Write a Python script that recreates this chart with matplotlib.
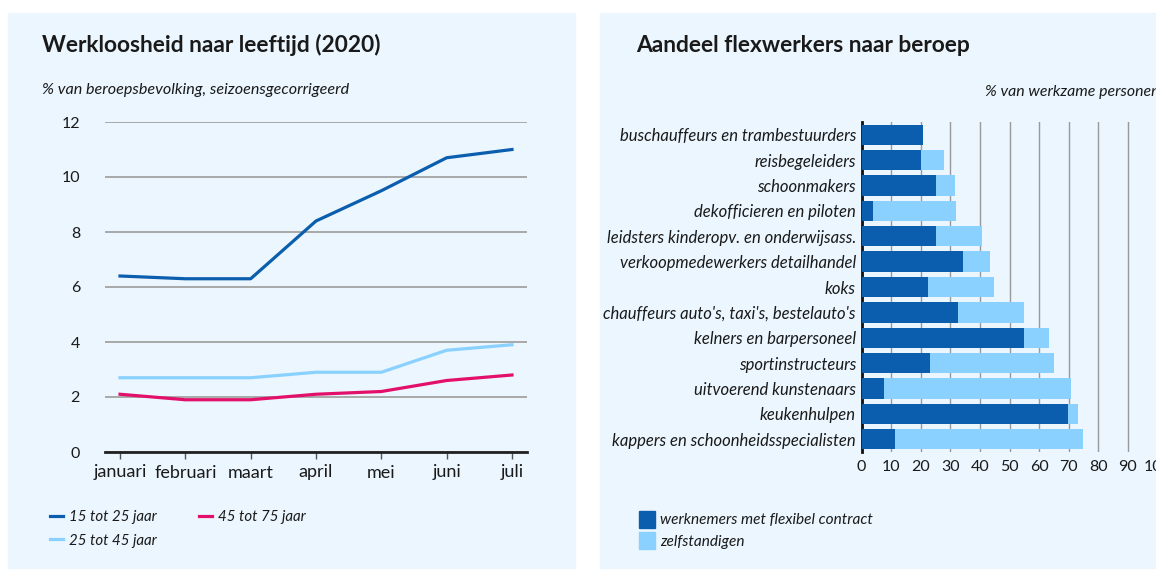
import numpy as np
import matplotlib.pyplot as plt
from matplotlib.patches import Rectangle, Patch

plt.rcParams['font.family'] = ['Lato', 'DejaVu Sans']

# left chart data
months = ['januari', 'februari', 'maart', 'april', 'mei', 'juni', 'juli']
age_15_25 = [6.4, 6.3, 6.3, 8.4, 9.5, 10.7, 11.0]
age_25_45 = [2.7, 2.7, 2.7, 2.9, 2.9, 3.7, 3.9]
age_45_75 = [2.1, 1.9, 1.9, 2.1, 2.2, 2.6, 2.8]

# right chart data
beroepen = ['buschauffeurs en trambestuurders', 'reisbegeleiders', 'schoonmakers',
            'dekofficieren en piloten', 'leidsters kinderopv. en onderwijsass.',
            'verkoopmedewerkers detailhandel', 'koks', "chauffeurs auto's, taxi's, bestelauto's",
            'kelners en barpersoneel', 'sportinstructeurs', 'uitvoerend kunstenaars',
            'keukenhulpen', 'kappers en schoonheidsspecialisten']
flex = [20.7, 20.0, 25.1, 4.0, 25.1, 34.3, 22.3, 32.7, 55.0, 23.2, 7.7, 69.9, 11.3]
zzp = [0.0, 7.8, 6.5, 27.8, 15.6, 9.0, 22.5, 22.3, 8.2, 41.7, 63.2, 3.1, 63.5]

DARK = '#0b5dad'
LIGHT = '#8ad1ff'
PINK = '#e3106b'
BG = '#ebf6fe'
TXT = '#1a1a1a'

W, H = 1156, 571
fig = plt.figure(figsize=(W / 100, H / 100), dpi=100)
fig.patch.set_facecolor('white')


def fx(px):
    return px / W


def fy(py):
    return 1 - py / H


# panel backgrounds
fig.patches.append(Rectangle((fx(8), fy(568)), fx(575 - 8), (568 - 13) / H,
                             transform=fig.transFigure, color=BG, zorder=-10))
fig.patches.append(Rectangle((fx(600), fy(568)), fx(W - 600), (568 - 13) / H,
                             transform=fig.transFigure, color=BG, zorder=-10))

# ---- left: line chart ----
ax = fig.add_axes([fx(105), fy(452), fx(527 - 105), (452 - 122) / H])
ax.set_facecolor('none')
x = np.arange(len(months))
l1, = ax.plot(x, age_15_25, color=DARK, lw=2.3, solid_joinstyle='round')
l2, = ax.plot(x, age_25_45, color=LIGHT, lw=2.3, solid_joinstyle='round')
l3, = ax.plot(x, age_45_75, color=PINK, lw=2.3, solid_joinstyle='round')
ax.set_xlim(-0.23, 6.23)
ax.set_ylim(0, 12)
ax.set_yticks([0, 2, 4, 6, 8, 10, 12])
ax.set_xticks(x)
ax.set_xticklabels(months)
ax.grid(axis='y', color='#a8a8a8', lw=1.4)
ax.set_axisbelow(True)
for s in ['top', 'right', 'left']:
    ax.spines[s].set_visible(False)
ax.spines['bottom'].set_color('#222222')
ax.spines['bottom'].set_linewidth(2)
ax.tick_params(axis='y', length=0, pad=18, labelsize=11.5, labelcolor=TXT)
ax.tick_params(axis='x', length=5, width=1, color='#555555', pad=4, labelsize=13, labelcolor=TXT)

fig.text(fx(42), fy(45), 'Werkloosheid naar leeftijd (2020)', fontsize=16.4, fontweight='bold',
         color=TXT, va='center')
fig.text(fx(42), fy(90), '% van beroepsbevolking, seizoensgecorrigeerd', fontsize=11.6,
         style='italic', color=TXT, va='center')

fig.legend(handles=[l1, l2, l3], labels=['15 tot 25 jaar', '25 tot 45 jaar', '45 tot 75 jaar'],
           ncol=2, loc='upper left', bbox_to_anchor=(fx(36), fy(497)), frameon=False,
           handlelength=0.9, handletextpad=0.4, columnspacing=2.8, labelspacing=0.6,
           prop={'style': 'italic', 'size': 10.8}, labelcolor=TXT)

# ---- right: stacked bars ----
ax2 = fig.add_axes([fx(861.5), fy(452), fx(296), (452 - 122) / H])
ax2.set_facecolor('none')
y = np.arange(len(beroepen))
ax2.barh(y, flex, height=0.8, color=DARK, label='werknemers met flexibel contract', zorder=3)
ax2.barh(y, zzp, left=flex, height=0.8, color=LIGHT, label='zelfstandigen', zorder=3)
ax2.set_ylim(len(beroepen) - 0.5, -0.5)
ax2.set_xlim(0, 100)
ax2.set_yticks(y)
ax2.set_yticklabels(beroepen, style='italic', fontsize=12, color=TXT)
ax2.set_xticks(np.arange(0, 101, 10))
ax2.grid(axis='x', color='#9a9a9a', lw=1)
ax2.set_axisbelow(True)
for s in ['top', 'right', 'bottom']:
    ax2.spines[s].set_visible(False)
ax2.spines['left'].set_color('#111111')
ax2.spines['left'].set_linewidth(2)
ax2.tick_params(axis='y', length=0, pad=4)
ax2.tick_params(axis='x', length=0, pad=6, labelsize=11.5, labelcolor=TXT)

fig.text(fx(636), fy(45), 'Aandeel flexwerkers naar beroep', fontsize=16.4, fontweight='bold',
         color=TXT, va='center')
fig.text(fx(985), fy(92), '% van werkzame personen', fontsize=11.4, style='italic',
         color=TXT, va='center')

fig.legend(handles=[Patch(color=DARK), Patch(color=LIGHT)],
           labels=['werknemers met flexibel contract', 'zelfstandigen'],
           loc='upper left', bbox_to_anchor=(fx(625), fy(497)), frameon=False,
           handlelength=1.05, handleheight=1.3, handletextpad=0.35, labelspacing=0.3,
           prop={'style': 'italic', 'size': 11.1}, labelcolor=TXT)

fig.savefig('out.png', dpi=100)
